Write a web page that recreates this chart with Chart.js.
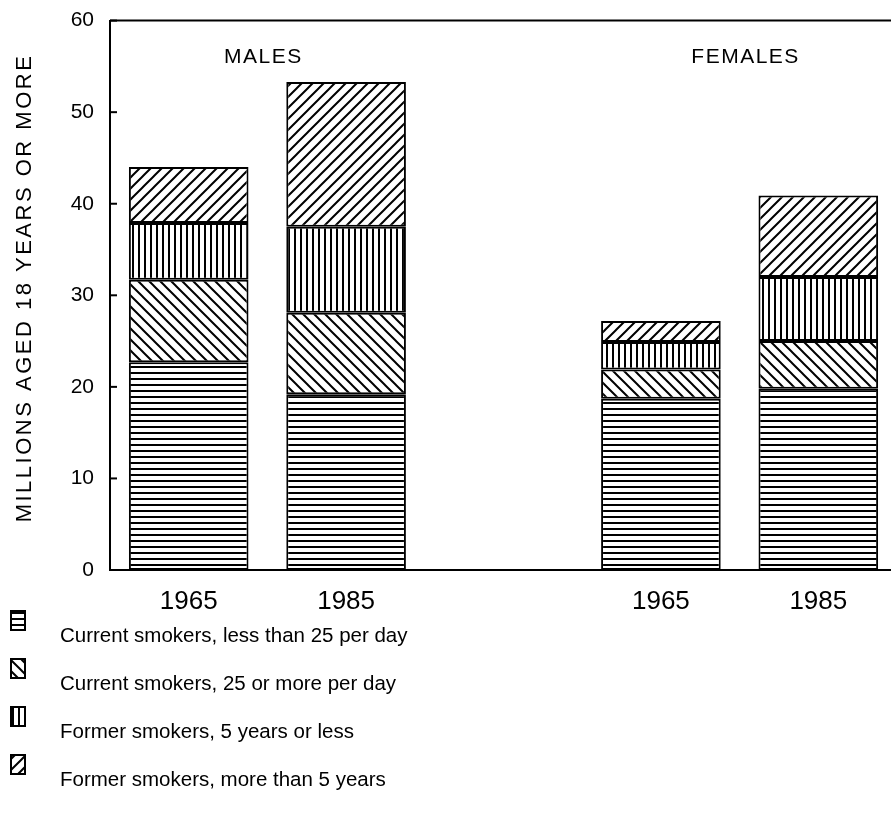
<!DOCTYPE html>
<html>
<head>
<meta charset="utf-8">
<script src="https://cdn.jsdelivr.net/npm/chart.js@4"></script>
<style>
  html, body { margin: 0; padding: 0; background: #fff; overflow: hidden; }
  #caja { position: relative; width: 897px; height: 828px; }
</style>
</head>
<body>
<div id="caja"><canvas id="lienzo"></canvas></div>
<script>
// datos (millones, 18 anos o mas)
const categorias = ['1965', '1985', '', '1965', '1985'];
const grupos = ['MALES', 'FEMALES'];
const menos25 = [22.7, 19.2, null, 18.7, 19.8];
const mas25 = [9.0, 8.9, null, 3.2, 5.2];
const exMenos5 = [6.2, 9.4, null, 3.0, 7.0];
const exMas5 = [6.1, 15.8, null, 2.3, 8.9];
const series = [
    'Current smokers, less than 25 per day',
    'Current smokers, 25 or more per day',
    'Former smokers, 5 years or less',
    'Former smokers, more than 5 years'
];
const tituloY = 'MILLIONS AGED 18 YEARS OR MORE';

// tramas en blanco y negro
function trama(tipo) {
    const c = document.createElement('canvas');
    const ctx = c.getContext('2d');
    let s = tipo === 'h' ? 6 : (tipo === 'v' ? 6 : 11);
    c.width = s; c.height = s;
    ctx.fillStyle = '#fff';
    ctx.fillRect(0, 0, s, s);
    ctx.fillStyle = '#000';
    ctx.strokeStyle = '#000';
    ctx.lineWidth = 2;
    if (tipo === 'h') {
        ctx.fillRect(0, 0, s, 2);
    } else if (tipo === 'v') {
        ctx.fillRect(0, 0, 2, s);
    } else if (tipo === '/') {
        ctx.beginPath();
        ctx.moveTo(-2, s + 2); ctx.lineTo(s + 2, -2);
        ctx.moveTo(-2, 2); ctx.lineTo(2, -2);
        ctx.moveTo(s - 2, s + 2); ctx.lineTo(s + 2, s - 2);
        ctx.stroke();
    } else {
        ctx.beginPath();
        ctx.moveTo(-2, -2); ctx.lineTo(s + 2, s + 2);
        ctx.moveTo(s - 2, -2); ctx.lineTo(s + 2, 2);
        ctx.moveTo(-2, s - 2); ctx.lineTo(2, s + 2);
        ctx.stroke();
    }
    return ctx.createPattern(c, 'repeat');
}
const tramas = [trama('h'), trama('\\'), trama('v'), trama('/')];

const extras = {
    id: 'extras',
    afterDraw(chart) {
        const ctx = chart.ctx;
        const a = chart.chartArea;
        const x = chart.scales.x;
        const y = chart.scales.y;
        ctx.save();
        ctx.strokeStyle = '#000';
        ctx.fillStyle = '#000';
        // linea superior
        ctx.lineWidth = 2;
        ctx.beginPath();
        ctx.moveTo(a.left, a.top);
        ctx.lineTo(a.right, a.top);
        ctx.stroke();
        // marcas hacia dentro
        y.ticks.forEach((t, i) => {
            const py = y.getPixelForTick(i);
            ctx.beginPath();
            ctx.moveTo(a.left, py);
            ctx.lineTo(a.left + 7, py);
            ctx.stroke();
        });
        // MALES / FEMALES
        ctx.font = '21px "Liberation Sans", Arial, sans-serif';
        ctx.letterSpacing = '1.5px';
        ctx.textAlign = 'center';
        ctx.textBaseline = 'middle';
        const gy = y.getPixelForValue(56);
        ctx.fillText(grupos[0], (x.getPixelForValue(0) + x.getPixelForValue(1)) / 2 - 4, gy);
        ctx.fillText(grupos[1], (x.getPixelForValue(3) + x.getPixelForValue(4)) / 2 + 6, gy);
        // titulo del eje y
        ctx.save();
        ctx.translate(25, 288);
        ctx.rotate(-Math.PI / 2);
        ctx.font = '22px "Liberation Sans", Arial, sans-serif';
        ctx.letterSpacing = '2.5px';
        ctx.fillText(tituloY, 0, 0);
        ctx.restore();
        // leyenda
        ctx.letterSpacing = '0px';
        ctx.textAlign = 'left';
        ctx.font = '20.5px "Liberation Sans", Arial, sans-serif';
        series.forEach((txt, i) => {
            const cy = 636 + i * 48;
            ctx.fillStyle = tramas[i];
            ctx.fillRect(11, cy - 25, 14, 19);
            ctx.lineWidth = 2;
            ctx.strokeRect(11, cy - 25, 14, 19);
            ctx.fillStyle = '#000';
            ctx.fillText(txt, 60, cy);
        });
        ctx.restore();
    }
};

const contexto = document.getElementById('lienzo').getContext('2d');
const grafico = new Chart(contexto, {
    type: 'bar',
    data: {
        labels: categorias,
        datasets: [menos25, mas25, exMenos5, exMas5].map((d, i) => ({
            label: series[i],
            data: d,
            backgroundColor: tramas[i],
            borderColor: '#000',
            borderWidth: 2,
            borderSkipped: false,
            barPercentage: 0.76,
            categoryPercentage: 1
        }))
    },
    options: {
        responsive: true,
        maintainAspectRatio: false,
        animation: false,
        layout: { padding: { top: 17, right: 0, bottom: 198, left: 0 } },
        plugins: {
            legend: { display: false },
            tooltip: { enabled: false }
        },
        scales: {
            x: {
                stacked: true,
                grid: { display: false },
                border: { display: true, color: '#000', width: 2 },
                ticks: {
                    color: '#000',
                    padding: 8,
                    font: { family: '"Liberation Sans", Arial, sans-serif', size: 26 }
                },
                afterFit: s => { s.height = 60; }
            },
            y: {
                stacked: true,
                min: 0,
                max: 60,
                grid: { display: false },
                border: { display: true, color: '#000', width: 2 },
                ticks: {
                    stepSize: 10,
                    color: '#000',
                    padding: 8,
                    font: { family: '"Liberation Sans", Arial, sans-serif', size: 21 }
                },
                afterFit: s => { s.width = 110; }
            }
        }
    },
    plugins: [extras]
});
</script>
</body>
</html>
